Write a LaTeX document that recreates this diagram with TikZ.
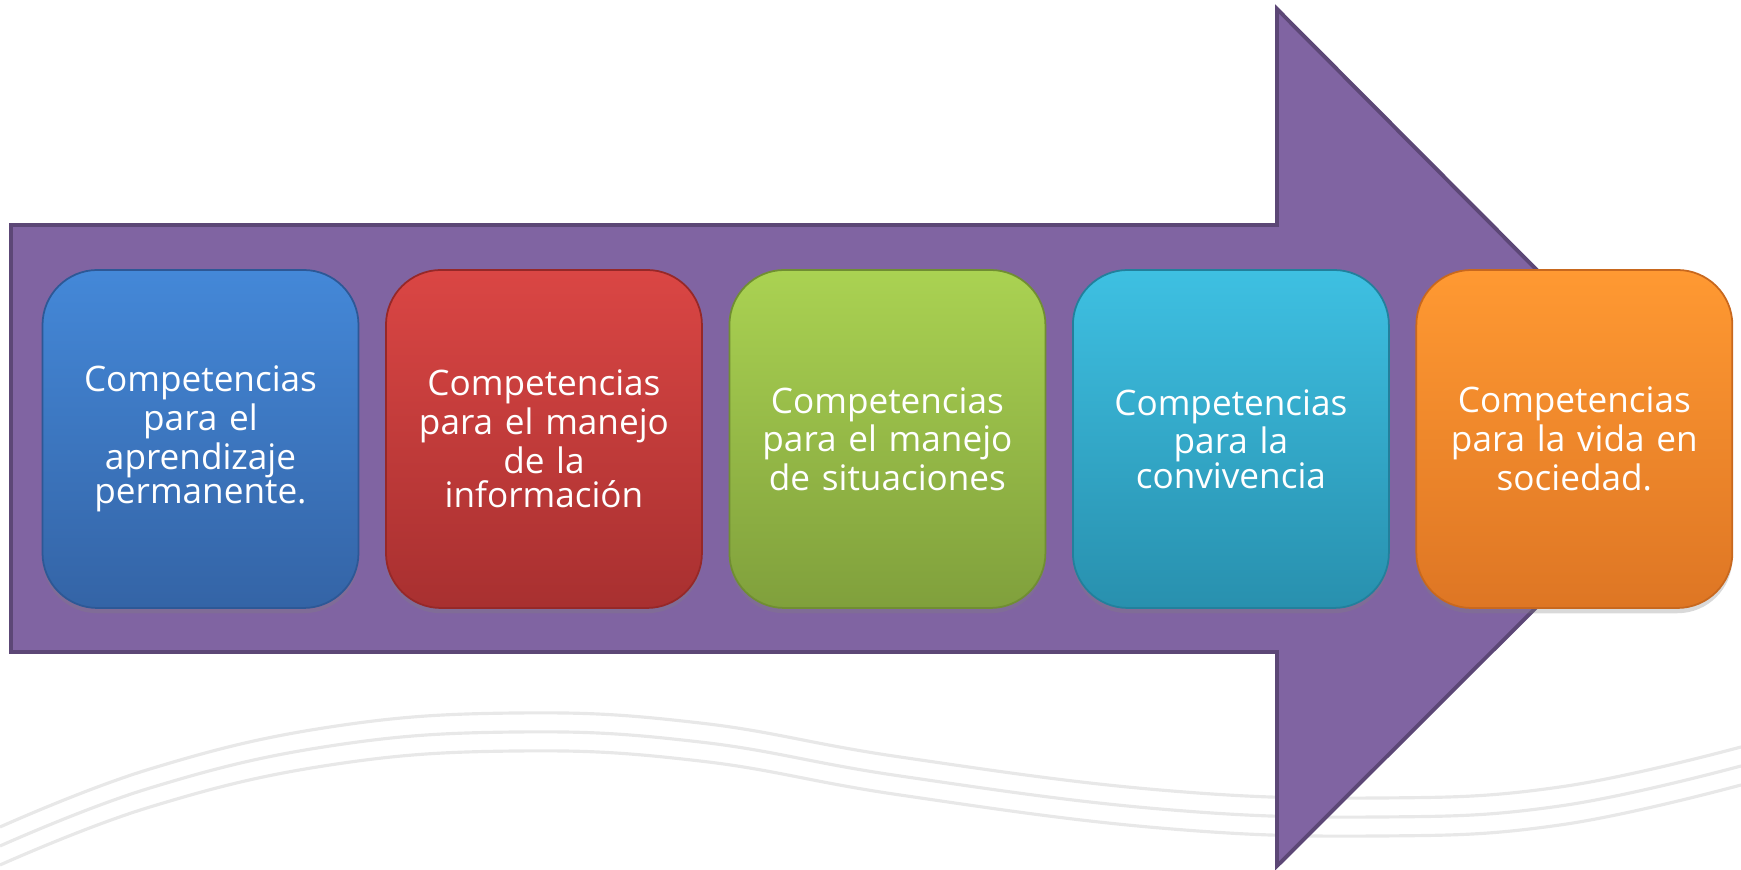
\documentclass[tikz,border=0pt]{standalone}
\usepackage{fontspec}
\newfontfamily\compfont{Open Sans}
\usetikzlibrary{positioning, shadows}
\usepackage{xcolor}
\definecolor{arrowfill}{RGB}{128,100,162}
\definecolor{arrowedge}{RGB}{92,71,118}
\definecolor{waveline}{RGB}{232,232,232}
\def\boxsep{0.257cm}

\begin{document}
\begin{tikzpicture}[node distance=\boxsep]
    \tikzstyle{comp box}=[rectangle, rounded corners=0.55cm, minimum width=3.16cm, minimum height=3.38cm,
        text width=3.1cm, align=center, inner sep=0pt, text=white, line width=0.5pt,
        font=\compfont\fontsize{10}{9.8}\selectfont,
        drop shadow={shadow xshift=0pt, shadow yshift=-1.5pt, opacity=0.3}]
    \tikzstyle{blue box}=[comp box, top color={rgb,255:red,68;green,136;blue,216}, bottom color={rgb,255:red,52;green,100;blue,166}, draw={rgb,255:red,45;green,88;blue,150}];
    \tikzstyle{red box}=[comp box, top color={rgb,255:red,218;green,70;blue,68}, bottom color={rgb,255:red,168;green,48;blue,48}, draw={rgb,255:red,150;green,40;blue,40}];
    \tikzstyle{green box}=[comp box, top color={rgb,255:red,170;green,210;blue,82}, bottom color={rgb,255:red,128;green,160;blue,60}, draw={rgb,255:red,112;green,142;blue,50}];
    \tikzstyle{cyan box}=[comp box, top color={rgb,255:red,62;green,192;blue,226}, bottom color={rgb,255:red,40;green,144;blue,174}, draw={rgb,255:red,34;green,128;blue,156}];
    \tikzstyle{orange box}=[comp box, top color={rgb,255:red,255;green,153;blue,50}, bottom color={rgb,255:red,222;green,118;blue,36}, draw={rgb,255:red,200;green,104;blue,30}];

    \useasboundingbox (0,0) rectangle (17.41,8.70);

    % faint waves behind
    \foreach \dy in {0,-0.19,-0.38}
        \draw[waveline, line width=0.9pt, yshift=\dy cm] plot[smooth, tension=0.7] coordinates
            {(0,0.43) (1.5,1.01) (3.3,1.43) (5.17,1.57) (7.0,1.47) (9.0,1.13)
             (11.6,0.80) (13.8,0.72) (15.6,0.83) (17.41,1.23)};

    % big arrow
    \draw[arrowedge, fill=arrowfill, line width=1.1pt] (0.11,2.18) -- (0.11,6.45) -- (12.77,6.45) -- (12.77,8.61)
        -- (17.05,4.31) -- (12.77,0.04) -- (12.77,2.18) -- cycle;

    % the five boxes
    \node[blue box] (C-1) at (2.005,4.31) {Competencias\\para el\\aprendizaje\\permanente.};
    \node[red box, right=of C-1] (C-2) {Competencias\\para el manejo\\de la\\información};
    \node[green box, right=of C-2] (C-3) {Competencias\\para el manejo\\de situaciones};
    \node[cyan box, right=of C-3] (C-4) {Competencias\\para la\\convivencia};
    \node[orange box, right=of C-4] (C-5) {Competencias\\para la vida en\\sociedad.};
\end{tikzpicture}
\end{document}
